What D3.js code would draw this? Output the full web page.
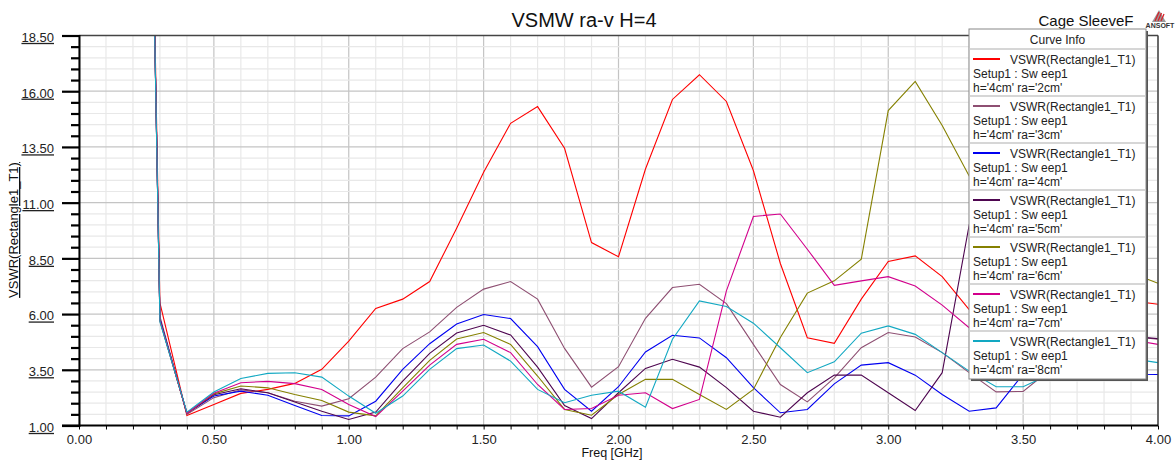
<!DOCTYPE html>
<html><head><meta charset="utf-8">
<script src="https://cdn.jsdelivr.net/npm/d3@7"></script>
<style>
body{margin:0;background:#fff;}
svg{display:block;font-family:"Liberation Sans",Arial,sans-serif;}
</style></head><body>
<svg id="c" width="1175" height="463"></svg>
<script>
const freq = [0.2,0.3,0.4,0.5,0.6,0.7,0.8,0.9,1.0,1.1,1.2,1.3,1.4,1.5,1.6,1.7,1.8,1.9,2.0,2.1,2.2,2.3,2.4,2.5,2.6,2.7,2.8,2.9,3.0,3.1,3.2,3.3,3.4,3.5,3.6,3.7,3.8,3.9,4.0];
const ra2 = [72,6.5,1.45,1.94,2.44,2.62,2.89,3.52,4.79,6.25,6.67,7.46,9.85,12.36,14.56,15.31,13.44,9.21,8.57,12.51,15.63,16.74,15.54,12.44,8.27,4.94,4.69,6.67,8.36,8.61,7.68,6.2,5.2,5.0,5.5,6.0,6.4,6.6,6.44];
const ra3 = [72,5.9,1.5,2.25,2.6,2.47,2.09,1.87,2.2,3.17,4.45,5.2,6.3,7.12,7.46,6.67,4.46,2.72,3.64,5.81,7.19,7.34,6.47,4.64,2.84,2.06,3.14,4.49,5.17,4.97,4.27,3.37,2.51,2.53,3.5,4.3,4.8,5.0,4.87];
const ra4 = [72,5.8,1.55,2.32,2.54,2.36,1.9,1.45,1.43,2.09,3.52,4.67,5.55,5.98,5.8,4.54,2.62,1.64,2.74,4.3,5.05,4.93,4.04,2.7,1.57,1.72,2.87,3.71,3.82,3.26,2.39,1.64,1.79,3.3,3.8,3.6,3.4,3.3,3.29];
const ra5 = [72,5.75,1.55,2.38,2.65,2.47,2.05,1.64,1.27,1.6,2.99,4.24,5.15,5.5,5.06,3.62,1.9,1.31,2.47,3.56,3.97,3.62,2.7,1.64,1.37,2.47,3.26,3.26,2.47,1.67,3.37,10.0,9.0,7.5,6.2,5.5,5.2,5.0,4.9];
const ra6 = [72,5.7,1.55,2.42,2.77,2.69,2.39,2.12,1.6,1.43,2.69,3.92,4.88,5.17,4.64,3.22,1.72,1.46,2.39,3.07,3.07,2.39,1.72,2.62,4.95,6.94,7.49,8.46,15.13,16.44,14.46,12.2,10.5,9.5,9.0,8.6,8.2,7.85,7.38];
const ra7 = [72,5.7,1.55,2.45,2.92,2.98,2.88,2.62,1.94,1.4,2.54,3.71,4.64,4.87,4.27,2.84,1.72,1.76,2.36,2.47,1.76,2.17,7.04,10.38,10.49,8.91,7.29,7.49,7.68,7.26,6.4,5.39,4.8,4.5,4.6,4.8,4.9,4.85,4.64];
const ra8 = [72,5.65,1.6,2.5,3.11,3.34,3.37,3.17,2.32,1.55,2.32,3.52,4.45,4.61,3.89,2.62,2.02,2.36,2.54,1.82,4.87,6.59,6.34,5.59,4.49,3.37,3.86,5.14,5.47,5.09,4.27,3.44,2.74,2.74,3.3,3.7,3.9,4.0,3.82];
const seriesNames = ["h='4cm' ra='2cm'","h='4cm' ra='3cm'","h='4cm' ra='4cm'","h='4cm' ra='5cm'","h='4cm' ra='6cm'","h='4cm' ra='7cm'","h='4cm' ra='8cm'"];
const seriesColors = ["#ff0000","#8e4f72","#0000f0","#4e0650","#858000","#d2008c","#12a8c2"];
const xTicks = [0,0.5,1,1.5,2,2.5,3,3.5,4];
const yTicks = [1,3.5,6,8.5,11,13.5,16,18.5];
const series = [ra2,ra3,ra4,ra5,ra6,ra7,ra8];

const svg = d3.select("#c");
const L=79,R=1158,T=35.5,B=425.5;
const x = d3.scaleLinear().domain([0,4]).range([L,R]);
const y = d3.scaleLinear().domain([1,18.5]).range([B,T]);

// grid
const g = svg.append("g");
const minorX = d3.range(0,4.0001,0.1).map(v=>+v.toFixed(2));
const minorY = d3.range(1,18.5001,0.5).map(v=>+v.toFixed(2));
g.selectAll(".mx").data(minorX).join("line")
 .attr("x1",d=>x(d)).attr("x2",d=>x(d)).attr("y1",T).attr("y2",B)
 .attr("stroke",d=>xTicks.some(t=>Math.abs(t-d)<1e-6)?"#c4c4c4":"#e8e8e8").attr("stroke-width",1.2);
g.selectAll(".my").data(minorY).join("line")
 .attr("y1",d=>y(d)).attr("y2",d=>y(d)).attr("x1",L).attr("x2",R)
 .attr("stroke",d=>yTicks.some(t=>Math.abs(t-d)<1e-6)?"#c4c4c4":"#e8e8e8").attr("stroke-width",1.2);

// clip
svg.append("clipPath").attr("id","pc").append("rect").attr("x",L).attr("y",T).attr("width",R-L).attr("height",B-T);

const line = d3.line().x((d,i)=>x(freq[i])).y(d=>y(d));
svg.append("g").attr("clip-path","url(#pc)").selectAll("path").data(series).join("path")
 .attr("d",d=>line(d)).attr("fill","none").attr("stroke",(d,i)=>seriesColors[i]).attr("stroke-width",1.1);

// frame top/right
svg.append("line").attr("x1",L).attr("x2",R).attr("y1",T).attr("y2",T).attr("stroke","#444").attr("stroke-width",1.5);
svg.append("line").attr("x1",R).attr("x2",R).attr("y1",T).attr("y2",B).attr("stroke","#444").attr("stroke-width",1.5);

// y axis
const ya = svg.append("g").attr("transform",`translate(${L},0)`)
 .call(d3.axisLeft(y).tickValues(yTicks).tickSize(17).tickPadding(8).tickFormat(d3.format(".2f")));
ya.select(".domain").attr("stroke","#000").attr("stroke-width",2);
ya.selectAll(".tick line").attr("stroke","#000").attr("stroke-width",2.2);
ya.selectAll(".tick text").attr("font-size",13).attr("fill","#222").attr("text-decoration","underline").attr("font-family","Liberation Sans, Arial, sans-serif").attr("dy","0.45em");
const yMinor = svg.append("g").attr("transform",`translate(${L},0)`)
 .call(d3.axisLeft(y).tickValues(minorY.filter(v=>!yTicks.some(t=>Math.abs(t-v)<1e-6))).tickSize(8).tickFormat(""));
yMinor.select(".domain").remove();
yMinor.selectAll(".tick line").attr("stroke","#000").attr("stroke-width",2.2);

// x axis
const xa = svg.append("g").attr("transform",`translate(0,${B})`)
 .call(d3.axisBottom(x).tickValues(xTicks).tickSize(4).tickPadding(5).tickFormat(d3.format(".2f")));
xa.select(".domain").attr("stroke","#000").attr("stroke-width",2).attr("d",`M${L-17},0H${R}`);
xa.selectAll(".tick line").attr("stroke","#000").attr("stroke-width",1);
xa.selectAll(".tick text").attr("font-size",13).attr("fill","#222").attr("font-family","Liberation Sans, Arial, sans-serif");
const xMinor = svg.append("g").attr("transform",`translate(0,${B})`)
 .call(d3.axisBottom(x).tickValues(minorX.filter(v=>!xTicks.some(t=>Math.abs(t-v)<1e-6))).tickSize(4).tickFormat(""));
xMinor.select(".domain").remove();
xMinor.selectAll(".tick line").attr("stroke","#000").attr("stroke-width",1);

// labels
svg.append("text").attr("x",584).attr("y",27).attr("text-anchor","middle").attr("font-size",20).attr("fill","#111").text("VSMW ra-v H=4");
svg.append("text").attr("x",1086).attr("y",26).attr("text-anchor","middle").attr("font-size",15).attr("fill","#111").text("Cage SleeveF");
svg.append("text").attr("x",612).attr("y",457).attr("text-anchor","middle").attr("font-size",12.5).attr("fill","#111").text("Freq [GHz]");
svg.append("text").attr("transform","translate(18,230) rotate(-90)").attr("text-anchor","middle").attr("font-size",13).attr("fill","#111").attr("text-decoration","underline").text("VSWR(Rectangle1_T1)");

// ANSOFT logo
const lg = svg.append("g");
lg.append("path").attr("d","M1159,10 L1166,22 L1152,22 Z").attr("fill","#999");
[0,1,2].forEach(k=>lg.append("line").attr("x1",1155+k*3).attr("y1",21).attr("x2",1159+k*2.5).attr("y2",12+k*1).attr("stroke","#d8202a").attr("stroke-width",1.3));
lg.append("text").attr("x",1160).attr("y",28).attr("text-anchor","middle").attr("font-size",7).attr("font-weight","bold").attr("fill","#333").text("ANSOFT");

// legend
const LX=969, LY=29, LW=177, rowH=47, headH=20;
const LH = headH + rowH*series.length + 1;
svg.append("rect").attr("x",LX+2).attr("y",LY+2).attr("width",LW).attr("height",LH).attr("fill","#555");
svg.append("rect").attr("x",LX).attr("y",LY).attr("width",LW).attr("height",LH).attr("fill","#fff").attr("stroke","#888").attr("stroke-width",1);
svg.append("text").attr("x",LX+LW/2).attr("y",LY+15).attr("text-anchor","middle").attr("font-size",12).attr("fill","#222").text("Curve Info");
seriesNames.forEach((nm,i)=>{
  const top = LY+headH+i*rowH;
  svg.append("line").attr("x1",LX).attr("x2",LX+LW).attr("y1",top).attr("y2",top).attr("stroke","#c8c8c8").attr("stroke-width",1.5);
  svg.append("line").attr("x1",LX+4).attr("x2",LX+31).attr("y1",top+10).attr("y2",top+10).attr("stroke",seriesColors[i]).attr("stroke-width",2);
  svg.append("text").attr("x",LX+41).attr("y",top+15).attr("font-size",12).attr("fill","#222").text("VSWR(Rectangle1_T1)");
  svg.append("text").attr("x",LX+4).attr("y",top+29).attr("font-size",12).attr("fill","#222").text("Setup1 : Sw eep1");
  svg.append("text").attr("x",LX+4).attr("y",top+43).attr("font-size",12).attr("fill","#222").text(nm);
});
</script>
</body></html>
